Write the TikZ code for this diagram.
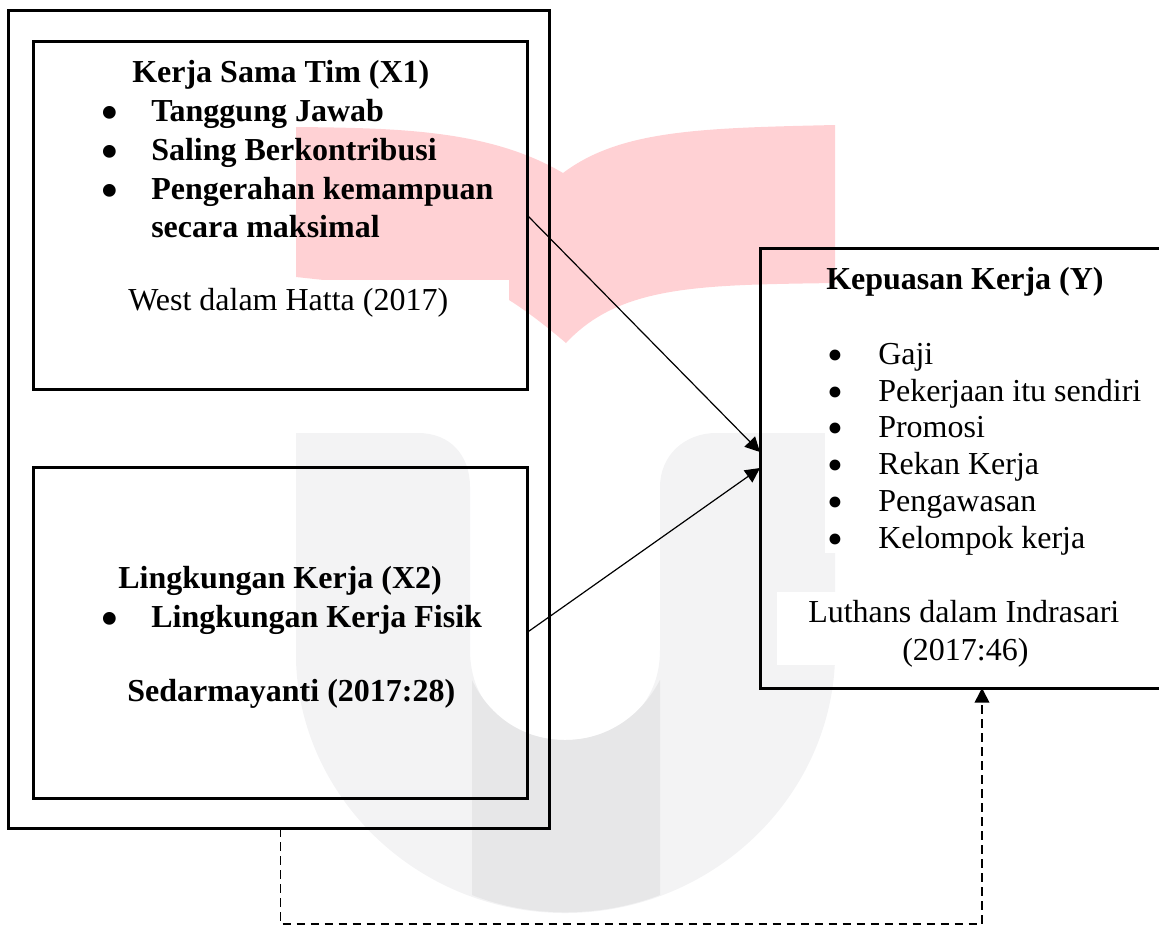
\documentclass[tikz,border=0pt]{standalone}
\usepackage{fontspec}
\setmainfont{Liberation Serif}
\usepackage{xcolor}
\usetikzlibrary{arrows.meta}
\definecolor{bookpink}{HTML}{FFD1D4}
\definecolor{ulight}{HTML}{F3F3F4}
\definecolor{uband}{HTML}{E7E7E8}
\newcommand{\bigdot}{\smash{\raisebox{-7pt}{\fontsize{40}{40}\selectfont\textbullet}}}
\newcommand{\middot}{\smash{\raisebox{-5pt}{\fontsize{34}{34}\selectfont\textbullet}}}
\tikzset{
	framebox/.style={draw, line width=2.25pt, inner sep=0pt, outer sep=0pt},
	txt/.style={anchor=base west, inner sep=0pt, font=\fontsize{24}{28}\selectfont},
	txtb/.style={txt, font=\fontsize{24}{28}\selectfont\bfseries},
	dot/.style={anchor=base, inner sep=0pt},
	link/.style={line width=0.9pt, -{Triangle[length=11pt,width=11pt]}},
	dashlink/.style={line width=1.3pt, dash pattern=on 6.5pt off 4pt, -{Triangle[length=11pt,width=11pt]}}
}
\begin{document}
\begin{tikzpicture}[x=0.75pt,y=-0.75pt]
	\useasboundingbox (0,0) rectangle (1159,926);
	% watermark
	\fill[bookpink] (296,127) .. controls (400,128) and (490,130) .. (563,173) .. controls (620,130) and (700,128) .. (835,125)
		-- (835,283) .. controls (700,285) and (620,285) .. (566,343) .. controls (545,325) and (525,310) .. (509,300) -- (296,277) -- cycle;
	\fill[white] (296,280) rectangle (509,345);
	\fill[ulight] (296,433) -- (418,433) .. controls (450,433) and (470,455) .. (470,487) -- (470,650)
		.. controls (470,705) and (510,740) .. (565,740) .. controls (620,740) and (660,705) .. (660,650)
		-- (660,487) .. controls (660,455) and (685,433) .. (716,433) -- (835,433) -- (835,660)
		.. controls (830,800) and (710,913) .. (565,913) .. controls (420,913) and (300,800) .. (296,660) -- cycle;
	\fill[uband] (472,680) .. controls (490,718) and (525,740) .. (565,740) .. controls (605,740) and (640,718) .. (660,680)
		-- (660,895) .. controls (600,918) and (530,918) .. (472,895) -- cycle;
	\fill[white] (825,433) rectangle (845,553);
	\fill[white] (777,592) rectangle (845,665);
	% boxes
	\node[framebox, minimum width=405.75pt, minimum height=613.5pt] (outerbox) at (278.5,419) {};
	\node[framebox, minimum width=370.5pt, minimum height=261pt] (xonebox) at (280,215) {};
	\node[framebox, minimum width=370.5pt, minimum height=248.25pt] (xtwobox) at (280,632.5) {};
	\node[framebox, minimum width=300.75pt, minimum height=330pt] (ybox) at (960.5,468) {};
	% X1
	\node[txtb] (xonetitle) at (132,82) {Kerja Sama Tim (X1)};
	\foreach \yy/\lbl/\nm in {121/Tanggung Jawab/a,160/Saling Berkontribusi/b,199/Pengerahan kemampuan/c} {
		\node[dot] (xonedot\nm) at (110,\yy) {\bigdot};
		\node[txtb] (xoneitem\nm) at (151,\yy) {\lbl};
	}
	\node[txtb] (xonemore) at (151,237) {secara maksimal};
	\node[txt] (xonesrc) at (128,310) {West dalam Hatta (2017)};
	% X2
	\node[txtb] (xtwotitle) at (118,588) {Lingkungan Kerja (X2)};
	\node[dot] (xtwodot) at (110,627) {\bigdot};
	\node[txtb] (xtwoitem) at (151,627) {Lingkungan Kerja Fisik};
	\node[txtb] (xtwosrc) at (127,701) {Sedarmayanti (2017:28)};
	% Y
	\node[txtb] (ytitle) at (826,289) {Kepuasan Kerja (Y)};
	\foreach \yy/\lbl/\nm in {364/Gaji/a,401/Pekerjaan itu sendiri/b,437/Promosi/c,474/Rekan Kerja/d,511/Pengawasan/e,548/Kelompok kerja/f} {
		\node[dot] (ydot\nm) at (835,\yy) {\middot};
		\node[txt] (yitem\nm) at (878,\yy) {\lbl};
	}
	\node[txt] (ysrc) at (808,622) {Luthans dalam Indrasari};
	\node[txt] (ysrcb) at (902,660) {(2017:46)};
	% connectors
	\coordinate (dashcorner) at (982,924);
	\draw[link] (xonebox.east) -- ([yshift=12pt]ybox.west);
	\draw[link] (xtwobox.east) -- (ybox.west);
	\draw[dashlink] ([xshift=1.5pt]outerbox.south) |- (dashcorner) -- (ybox.south -| dashcorner);
\end{tikzpicture}
\end{document}
